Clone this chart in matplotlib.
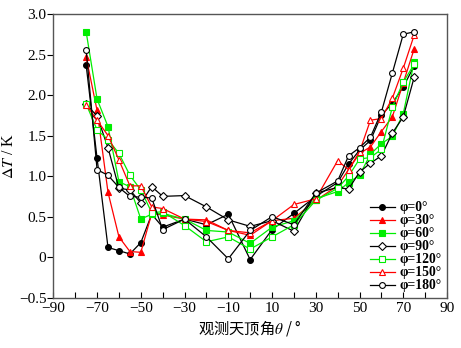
import matplotlib
matplotlib.use("Agg")
import matplotlib.pyplot as plt
from matplotlib.ticker import MultipleLocator

theta = [-75, -70, -65, -60, -55, -50, -45, -40, -30, -20, -10, 0, 10, 20, 30, 40, 45, 50, 55, 60, 65, 70, 75]

phi0 = [2.37, 1.22, 0.12, 0.08, 0.04, 0.18, 0.53, 0.37, 0.47, 0.40, 0.53, -0.03, 0.34, 0.54, 0.75, 0.92, 1.15, 1.32, 1.44, 1.75, 1.90, 2.10, 2.36]
phi30 = [2.47, 1.81, 0.80, 0.25, 0.07, 0.06, 0.54, 0.52, 0.47, 0.46, 0.33, 0.27, 0.45, 0.48, 0.70, 0.88, 1.08, 1.28, 1.36, 1.55, 1.73, 2.15, 2.57]
phi60 = [2.78, 1.95, 1.61, 0.93, 0.87, 0.47, 0.53, 0.54, 0.47, 0.33, 0.31, 0.17, 0.37, 0.45, 0.72, 0.81, 0.92, 1.01, 1.27, 1.40, 1.49, 1.77, 2.41]
phi90 = [1.89, 1.74, 1.35, 0.85, 0.83, 0.67, 0.87, 0.75, 0.76, 0.62, 0.46, 0.38, 0.45, 0.32, 0.79, 0.86, 0.84, 1.05, 1.16, 1.25, 1.53, 1.73, 2.22]
phi120 = [1.89, 1.57, 1.45, 1.28, 1.01, 0.83, 0.55, 0.56, 0.39, 0.19, 0.25, 0.10, 0.25, 0.40, 0.70, 0.85, 1.00, 1.21, 1.23, 1.33, 1.85, 2.16, 2.38]
phi150 = [1.88, 1.69, 1.50, 1.20, 0.88, 0.88, 0.62, 0.60, 0.47, 0.44, 0.33, 0.30, 0.45, 0.65, 0.72, 1.19, 1.08, 1.30, 1.69, 1.71, 1.96, 2.33, 2.74]
phi180 = [2.56, 1.08, 1.01, 0.86, 0.75, 0.74, 0.73, 0.34, 0.47, 0.25, -0.02, 0.33, 0.50, 0.40, 0.79, 0.94, 1.25, 1.35, 1.48, 1.79, 2.27, 2.75, 2.78]

labels = ["φ=0°", "φ=30°", "φ=60°", "φ=90°", "φ=120°", "φ=150°", "φ=180°"]
series = [phi0, phi30, phi60, phi90, phi120, phi150, phi180]

RED = "#ff0000"
GREEN = "#00ee00"
styles = [
    dict(color="black", marker="o", mfc="black", mec="black"),
    dict(color=RED, marker="^", mfc=RED, mec=RED),
    dict(color=GREEN, marker="s", mfc=GREEN, mec=GREEN),
    dict(color="black", marker="D", mfc="white", mec="black", ms=3.6),
    dict(color=GREEN, marker="s", mfc="white", mec=GREEN),
    dict(color=RED, marker="^", mfc="white", mec=RED),
    dict(color="black", marker="o", mfc="white", mec="black"),
]

plt.rcParams['font.family'] = ['Liberation Serif', 'Noto Sans CJK SC', 'DejaVu Sans']
plt.rcParams['mathtext.fontset'] = 'stix'

fig = plt.figure(figsize=(4.61, 3.48), dpi=100)
ax = fig.add_axes([0.1157, 0.1445, 0.8539, 0.8153])

for y, lab, st in zip(series, labels, styles):
    st = dict(st)
    ms = st.pop("ms", 4.2)
    ax.plot(theta, y, lw=0.9, ms=ms, mew=0.8, label=lab, **st)

ax.set_xlim(-90, 90)
ax.set_ylim(-0.5, 3.0)
ax.xaxis.set_minor_locator(MultipleLocator(10))
ax.set_xticks(range(-90, 91, 20))
ax.set_xticklabels([str(v).replace('-', '−') for v in range(-90, 91, 20)])
ax.set_yticks([-0.5, 0, 0.5, 1.0, 1.5, 2.0, 2.5, 3.0])
ax.set_yticklabels(['−0.5', '0', '0.5', '1.0', '1.5', '2.0', '2.5', '3.0'])
ax.tick_params(axis='x', which='both', direction='in', length=4, width=0.8, top=False, labelsize=11, pad=3)
ax.tick_params(axis='y', which='both', direction='out', length=4, width=0.8, right=False, labelsize=11, pad=1)
for s in ax.spines.values():
    s.set_color('#555555')
    s.set_linewidth(1.0)

ax.set_xlabel("观测天顶角$\\theta$ / °", fontsize=11, labelpad=2,
              family=['Noto Sans CJK SC', 'DejaVu Sans'])
ax.set_ylabel("$\\Delta T$ / K", fontsize=11.5, labelpad=1)

leg = ax.legend(loc='lower right', bbox_to_anchor=(1.0, 0.0), frameon=False,
                prop={'size': 9.8, 'weight': 'bold'}, handlelength=1.8, handletextpad=0.35,
                labelspacing=0.0, borderaxespad=0.2, borderpad=0.2)

fig.savefig("out.png", dpi=100)
